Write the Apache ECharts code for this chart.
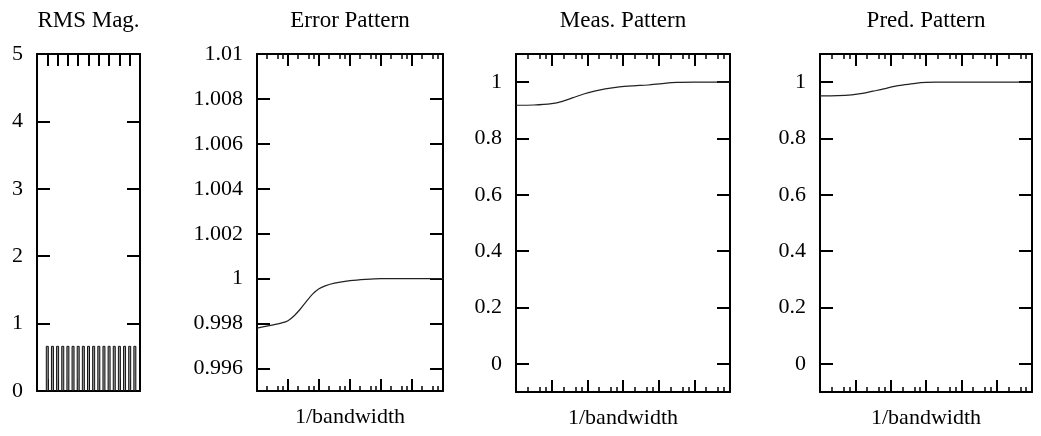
<!DOCTYPE html>
<html>
<head>
<meta charset="utf-8">
<script src="https://cdn.jsdelivr.net/npm/echarts@6/dist/echarts.min.js"></script>
<style>
  html, body { margin: 0; padding: 0; background: #fff; }
  #chart { width: 1041px; height: 436px; }
</style>
</head>
<body>
<div id="chart"></div>
<script>
// Panel titles and shared x-axis name
const titles = ['RMS Mag.', 'Error Pattern', 'Meas. Pattern', 'Pred. Pattern'];
const xName = '1/bandwidth';

// RMS magnitude bars
const rmsX = [1, 1.5, 2, 2.5, 3, 3.5, 4, 4.5, 5, 5.5, 6, 6.5, 7, 7.5, 8, 8.5, 9, 9.5];
const rmsY = [0.67, 0.67, 0.67, 0.67, 0.67, 0.67, 0.67, 0.67, 0.67, 0.67, 0.67, 0.67, 0.67, 0.67, 0.67, 0.67, 0.67, 0.67];
const rmsYTicks = [0, 1, 2, 3, 4, 5];
const rmsXTicks = [1, 2, 3, 4, 5, 6, 7, 8, 9];

// Error pattern curve
const errX = [0, 0.4, 0.8, 1.0, 1.2, 1.4, 1.6, 1.8, 2.0, 2.2, 2.5, 3.0, 3.5, 4.0, 5.0, 6];
const errY = [0.99780, 0.99791, 0.99803, 0.99813, 0.99835, 0.99865, 0.99900, 0.99932, 0.99955, 0.99968,
              0.99980, 0.99991, 0.99997, 1.0, 1.0, 1.0];
const errYTicks = [0.996, 0.998, 1, 1.002, 1.004, 1.006, 1.008, 1.01];

// Measured pattern curve
const measX = [0, 0.5, 1.0, 1.3, 1.6, 1.9, 2.2, 2.5, 2.9, 3.3, 3.7, 4.1, 4.5, 5, 6];
const measY = [0.918, 0.919, 0.924, 0.932, 0.945, 0.958, 0.968, 0.976, 0.983, 0.987, 0.990, 0.995, 0.999, 1.0, 1.0];

// Predicted pattern curve
const predX = [0, 0.5, 0.9, 1.2, 1.5, 1.8, 2.1, 2.4, 2.7, 3.0, 3.3, 4, 6];
const predY = [0.951, 0.952, 0.955, 0.960, 0.968, 0.976, 0.985, 0.991, 0.996, 0.999, 1.0, 1.0, 1.0];
const patternYTicks = [0, 0.2, 0.4, 0.6, 0.8, 1];

// x tick marks on the bandwidth axes: long marks and short marks
const majorXTicks = [1, 2, 3, 4, 5];
const minorXTicks = [0.33, 0.67, 0.83, 1.33, 1.67, 1.83, 2.33, 2.67, 2.83,
                     3.33, 3.67, 3.83, 4.33, 4.67, 4.83, 5.33, 5.67, 5.83];

const FONT = 'Liberation Serif';
const INK = '#000';
const LABEL_SIZE = 22;
const TITLE_SIZE = 23;

const panels = [
  { left: 37,  width: 103, height: 337, xMax: 10, yMin: 0,     yMax: 5,    yTicks: rmsYTicks,     xMajor: rmsXTicks, xMinor: null, name: '' },
  { left: 257, width: 186, height: 337, xMax: 6,  yMin: 0.995, yMax: 1.01, yTicks: errYTicks,     xMajor: majorXTicks, xMinor: minorXTicks, name: xName },
  { left: 516, width: 214, height: 338, xMax: 6,  yMin: -0.1,  yMax: 1.1,  yTicks: patternYTicks, xMajor: majorXTicks, xMinor: minorXTicks, name: xName },
  { left: 820, width: 212, height: 338, xMax: 6,  yMin: -0.1,  yMax: 1.1,  yTicks: patternYTicks, xMajor: majorXTicks, xMinor: minorXTicks, name: xName }
];

const grid = [], xAxis = [], yAxis = [], graphic = [];
const mainX = [];

panels.forEach((p, gi) => {
  grid.push({ left: p.left, top: 54, width: p.width, height: p.height, outerBoundsMode: 'none' });

  const makeX = (position, ticks, len, width, withLine, withName) => {
    const ax = {
      gridIndex: gi, type: 'value', position: position, min: 0, max: p.xMax,
      axisLine: { show: withLine, onZero: false, lineStyle: { color: INK, width: 2 } },
      axisTick: { show: true, inside: true, length: len, customValues: ticks, lineStyle: { color: INK, width: width } },
      axisLabel: { show: false, customValues: ticks },
      splitLine: { show: false }
    };
    if (withName && p.name) {
      ax.name = p.name;
      ax.nameLocation = 'middle';
      ax.nameGap = 15;
      ax.nameTextStyle = { fontFamily: FONT, fontSize: LABEL_SIZE, color: INK };
    }
    xAxis.push(ax);
    return xAxis.length - 1;
  };

  mainX.push(makeX('bottom', p.xMajor, 12, 2, true, true));
  makeX('top', p.xMajor, 12, 2, true, false);
  if (p.xMinor) {
    makeX('bottom', p.xMinor, 5, 1.5, false, false);
    makeX('top', p.xMinor, 5, 1.5, false, false);
  }

  yAxis.push({
    gridIndex: gi, type: 'value', position: 'left', min: p.yMin, max: p.yMax,
    axisLine: { show: true, onZero: false, lineStyle: { color: INK, width: 2 } },
    axisTick: { show: true, inside: true, length: 13, customValues: p.yTicks, lineStyle: { color: INK, width: 2 } },
    axisLabel: { show: true, customValues: p.yTicks, margin: 14, fontFamily: FONT, fontSize: LABEL_SIZE, color: INK,
                 formatter: v => String(Number(v.toFixed(4))) },
    splitLine: { show: false }
  });
  yAxis.push({
    gridIndex: gi, type: 'value', position: 'right', min: p.yMin, max: p.yMax,
    axisLine: { show: true, onZero: false, lineStyle: { color: INK, width: 2 } },
    axisTick: { show: true, inside: true, length: 13, customValues: p.yTicks, lineStyle: { color: INK, width: 2 } },
    axisLabel: { show: false, customValues: p.yTicks },
    splitLine: { show: false }
  });

  graphic.push({
    type: 'text', x: p.left + p.width / 2, y: 21, silent: true,
    style: { text: titles[gi], font: TITLE_SIZE + 'px "' + FONT + '"', fill: INK, align: 'center', verticalAlign: 'middle' }
  });
});

const zip = (xs, ys) => xs.map((x, i) => [x, ys[i]]);
const curve = (gi, xs, ys) => ({
  type: 'line', xAxisIndex: mainX[gi], yAxisIndex: gi * 2,
  data: zip(xs, ys), smooth: 0.3, showSymbol: false, symbol: 'none',
  lineStyle: { color: '#222', width: 1.2 }, animation: false, z: 1
});

const series = [
  {
    type: 'bar', xAxisIndex: mainX[0], yAxisIndex: 0, data: zip(rmsX, rmsY),
    barWidth: 3, itemStyle: { color: '#9a9a9a', borderColor: '#111', borderWidth: 1 },
    animation: false, z: 1
  },
  curve(1, errX, errY),
  curve(2, measX, measY),
  curve(3, predX, predY)
];

const chart = echarts.init(document.getElementById('chart'), null, { renderer: 'canvas' });
chart.setOption({
  backgroundColor: '#fff',
  animation: false,
  grid, xAxis, yAxis, series, graphic
});
</script>
</body>
</html>
